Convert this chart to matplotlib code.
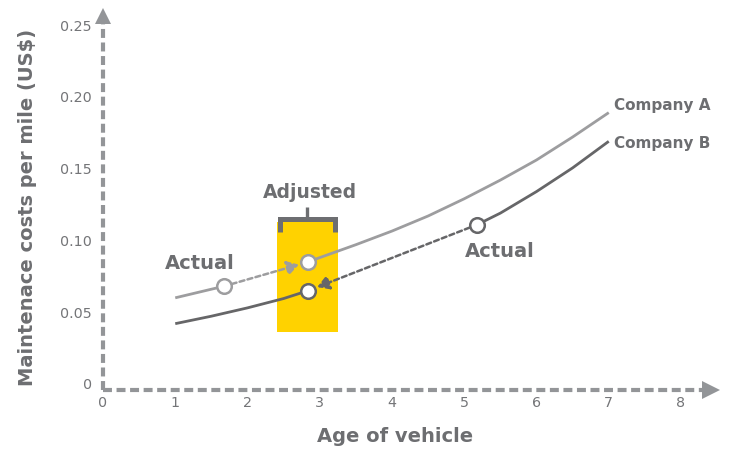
import numpy as np
import matplotlib
matplotlib.use("Agg")
import matplotlib.pyplot as plt

# ---- data ----
age_a = [1, 1.5, 1.67, 2, 2.5, 2.84, 3, 3.5, 4, 4.5, 5, 5.5, 6, 6.5, 7]
cost_a = [0.060, 0.066, 0.068, 0.0726, 0.080, 0.085, 0.088, 0.097, 0.1065, 0.117,
          0.129, 0.142, 0.156, 0.172, 0.189]
age_b = [1, 1.5, 2, 2.5, 2.84, 3, 3.5, 4, 4.5, 5, 5.18, 5.5, 6, 6.5, 7]
cost_b = [0.042, 0.0472, 0.053, 0.0595, 0.065, 0.0668, 0.075, 0.0842, 0.0946, 0.106,
          0.111, 0.119, 0.134, 0.1505, 0.169]

a_actual = (1.67, 0.068)
a_adjusted = (2.84, 0.085)
b_actual = (5.18, 0.111)
b_adjusted = (2.84, 0.065)

adjusted_band = (2.41, 3.25)     # age range of the yellow band
adjusted_cost = (0.036, 0.113)   # cost range of the yellow band

x_ticks = [0, 1, 2, 3, 4, 5, 6, 7, 8]
y_ticks = [0, 0.05, 0.10, 0.15, 0.20, 0.25]
y_tick_labels = ["0", "0.05", "0.10", "0.15", "0.20", "0.25"]

# ---- style ----
TEXT = "#6d6e71"
AXIS = "#939598"
COL_A = "#9d9d9f"
COL_B = "#666668"
YELLOW = "#FFD200"
FONT = "DejaVu Sans"

fig = plt.figure(figsize=(7.30, 4.51), dpi=100)
ax = fig.add_axes([100 / 730, (451 - 392) / 451, 625.8 / 730, 388.5 / 451])
ax.set_xlim(-0.0415, 8.62)
ax.set_ylim(-0.0056, 0.265)
for s in ax.spines.values():
    s.set_visible(False)

# axes drawn as dashed lines with arrowheads
x_axis_y = -0.0042
ax.plot([0, 0], [x_axis_y, 0.2507], color=AXIS, lw=3.0, dashes=(2.15, 1.1), clip_on=False, zorder=1)
ax.plot([0, 8.30], [x_axis_y, x_axis_y], color=AXIS, lw=3.0, dashes=(2.15, 1.1), clip_on=False, zorder=1)
ax.plot([0], [0.2566], marker="^", ms=12.2, color=AXIS, mew=0, clip_on=False)
ax.plot([8.42], [x_axis_y], marker=">", ms=13, color=AXIS, mew=0, clip_on=False)

# ticks
ax.set_xticks(x_ticks)
ax.set_xticklabels([str(t) for t in x_ticks])
ax.set_yticks(y_ticks)
ax.set_yticklabels(y_tick_labels)
ax.tick_params(length=0, colors=TEXT, labelsize=10.3, pad=6)
ax.tick_params(axis="x", pad=3)
for lab in ax.get_xticklabels() + ax.get_yticklabels():
    lab.set_family(FONT)
    lab.set_color("#747578")

# yellow band and bracket
ax.bar((adjusted_band[0] + adjusted_band[1]) / 2, adjusted_cost[1] - adjusted_cost[0],
       bottom=adjusted_cost[0], width=adjusted_band[1] - adjusted_band[0],
       color=YELLOW, zorder=2, linewidth=0)
bx0, bx1 = adjusted_band[0] + 0.033, adjusted_band[1] - 0.033
ax.plot([bx0, bx0, bx1, bx1], [0.1058, 0.1146, 0.1146, 0.1058], color=TEXT, lw=3.6,
        solid_joinstyle="miter", solid_capstyle="butt", zorder=3)
mid = (adjusted_band[0] + adjusted_band[1]) / 2
ax.plot([mid, mid], [0.1146, 0.1233], color=TEXT, lw=2.4, solid_capstyle="butt", zorder=3)

# curves (solid parts)
xa = np.array(age_a); ya = np.array(cost_a)
xb = np.array(age_b); yb = np.array(cost_b)
m1 = xa <= a_actual[0]; m2 = xa >= a_adjusted[0]
ax.plot(xa[m1], ya[m1], color=COL_A, lw=2.0, zorder=4, solid_capstyle="butt")
ax.plot(xa[m2], ya[m2], color=COL_A, lw=2.0, zorder=4, solid_capstyle="butt")
m1 = xb <= b_adjusted[0]; m2 = xb >= b_actual[0]
ax.plot(xb[m1], yb[m1], color=COL_B, lw=2.0, zorder=4, solid_capstyle="butt")
ax.plot(xb[m2], yb[m2], color=COL_B, lw=2.0, zorder=4, solid_capstyle="butt")

# dashed arrows actual -> adjusted
for start, end, c in [(a_actual, a_adjusted, COL_A), (b_actual, b_adjusted, COL_B)]:
    ax.annotate("", xy=end, xytext=start,
                arrowprops=dict(arrowstyle="-|>,head_length=0.5,head_width=0.3", color=c,
                                lw=1.8, linestyle=(0, (2.0, 1.3)), shrinkA=6, shrinkB=7,
                                mutation_scale=14), zorder=5)

# circles
for pt, c in [(a_actual, COL_A), (a_adjusted, COL_A), (b_adjusted, COL_B), (b_actual, COL_B)]:
    ax.plot([pt[0]], [pt[1]], marker="o", ms=10.5, mfc="white", mec=c, mew=1.8, zorder=6)

# annotations
tkw = dict(color=TEXT, family=FONT, fontweight="bold")
ax.text(1.343, 0.0836, "Actual", ha="center", va="center", fontsize=14, **tkw)
ax.text(5.495, 0.0926, "Actual", ha="center", va="center", fontsize=14, **tkw)
ax.text(2.865, 0.1337, "Adjusted", ha="center", va="center", fontsize=13.5, **tkw)
ax.text(7.07, 0.1943, "Company A", ha="left", va="center", fontsize=11, **tkw)
ax.text(7.07, 0.1678, "Company B", ha="left", va="center", fontsize=11, **tkw)

ax.set_xlabel("Age of vehicle", fontsize=14, va="center", **tkw)
ax.xaxis.set_label_coords((395 - 100) / 625.8, (392 - 436) / 388.5)
ax.set_ylabel("Maintenace costs per mile (US$)", fontsize=14, va="center", ha="center", **tkw)
ax.yaxis.set_label_coords((28 - 100) / 625.8, (392 - 207) / 388.5)

fig.savefig("out.png", dpi=100)
